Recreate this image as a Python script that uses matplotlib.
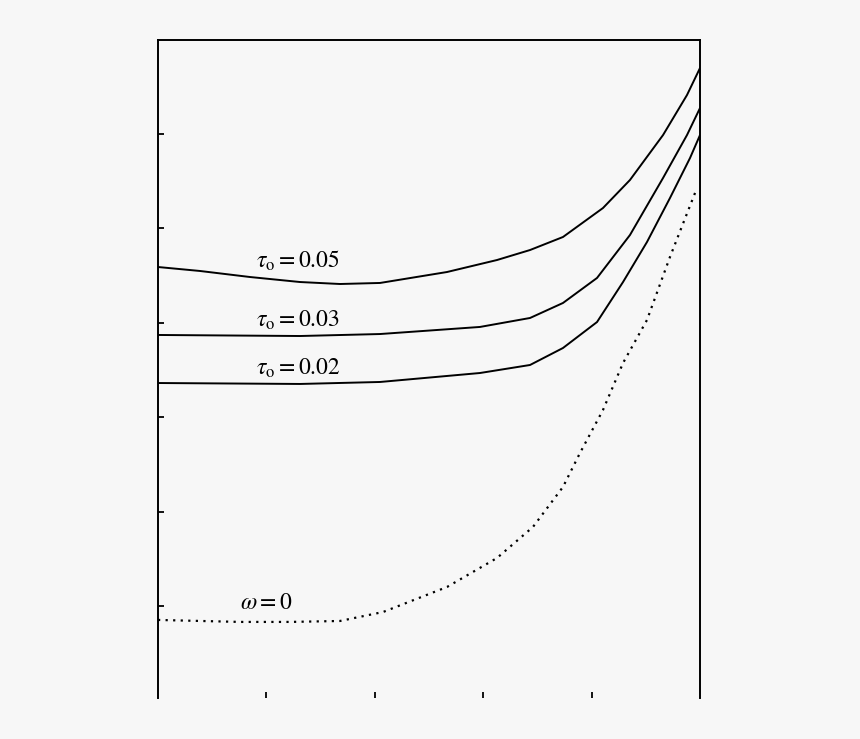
import numpy as np
import matplotlib.pyplot as plt

plt.rcParams['mathtext.fontset'] = 'stix'
plt.rcParams['font.family'] = ['Liberation Serif', 'DejaVu Serif']

# curves (x and y in tick units)
x_t05 = [0.0, 0.387, 0.849, 1.310, 1.679, 2.048, 2.666, 3.127, 3.432, 3.736, 4.105, 4.354, 4.659, 4.880, 5.0]
y_t05 = [4.591, 4.549, 4.485, 4.432, 4.411, 4.422, 4.538, 4.665, 4.771, 4.909, 5.216, 5.513, 5.989, 6.413, 6.699]

x_t03 = [0.0, 1.310, 2.048, 2.970, 3.432, 3.736, 4.050, 4.354, 4.659, 4.880, 5.0]
y_t03 = [3.871, 3.860, 3.881, 3.956, 4.051, 4.210, 4.475, 4.930, 5.534, 5.989, 6.275]

x_t02 = [0.0, 1.310, 2.048, 2.970, 3.432, 3.736, 4.050, 4.290, 4.511, 4.723, 4.908, 5.0]
y_t02 = [3.362, 3.352, 3.373, 3.468, 3.553, 3.733, 4.008, 4.432, 4.856, 5.322, 5.746, 5.989]

x_w0 = [0.0, 0.756, 1.218, 1.679, 2.076, 2.666, 3.127, 3.459, 3.736, 3.893, 4.105, 4.290, 4.511, 4.723, 4.972]
y_w0 = [0.852, 0.831, 0.831, 0.841, 0.936, 1.201, 1.508, 1.837, 2.261, 2.621, 3.076, 3.574, 4.030, 4.697, 5.428]

labels = [r'$\tau_{\mathrm{o}}=0.05$', r'$\tau_{\mathrm{o}}=0.03$', r'$\tau_{\mathrm{o}}=0.02$', r'$\omega=0$']
label_x = [0.904, 0.904, 0.904, 0.756]
label_y = [4.655, 4.030, 3.521, 1.021]

bg = '#f7f7f7'
fig = plt.figure(figsize=(8.6, 7.39), dpi=100, facecolor=bg)
ax = fig.add_axes([158 / 860, 41 / 739, 542 / 860, 658 / 739])
ax.set_facecolor(bg)

for xs, ys in [(x_t05, y_t05), (x_t03, y_t03), (x_t02, y_t02)]:
    ax.plot(xs, ys, color='black', lw=1.4, solid_joinstyle='round')
ax.plot(x_w0, y_w0, color='black', lw=1.6, linestyle=(0, (1.0, 2.4)))

for t, tx, ty in zip(labels, label_x, label_y):
    ax.text(tx, ty, t, fontsize=17, ha='left', va='center')

ax.set_xlim(0, 5)
ax.set_ylim(0.025, 6.996)
ax.set_xticks([1, 2, 3, 4])
ax.set_yticks([1, 2, 3, 4, 5, 6])
ax.tick_params(direction='in', length=4, width=1.3, labelbottom=False, labelleft=False)
ax.spines['bottom'].set_visible(False)
for s in ['left', 'right', 'top']:
    ax.spines[s].set_linewidth(1.4)

fig.savefig('out.png', dpi=100, facecolor=bg)
